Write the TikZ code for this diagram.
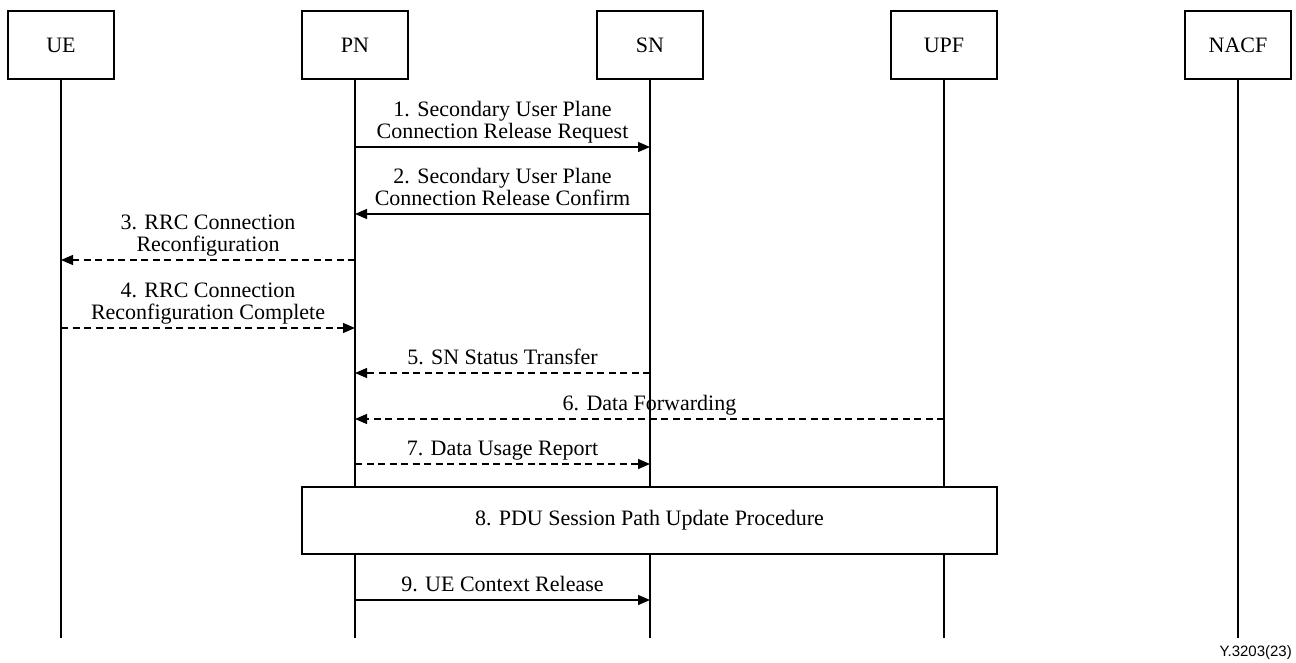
\documentclass[tikz,border=0pt]{standalone}
\usepackage{fontspec}
\setmainfont{Liberation Serif}
\newfontfamily\tagfont{Liberation Sans}
\usetikzlibrary{arrows.meta}

\begin{document}
\begin{tikzpicture}[x=1pt,y=-1pt,
  every node/.style={font=\fontsize{22}{22.5}\selectfont},
  entity/.style={draw, line width=1.3pt, minimum width=106pt, minimum height=68pt, inner sep=0pt},
  life/.style={line width=1.3pt},
  msg/.style={line width=1.3pt, -{Triangle[length=12pt,width=10pt]}},
  dmsg/.style={msg, dash pattern=on 7pt off 4.5pt},
  lbl/.style={align=center, anchor=south, inner sep=0pt, text depth=0pt},
  proc/.style={draw, fill=white, line width=1.3pt, minimum width=695pt, minimum height=67pt, inner sep=0pt}]

\useasboundingbox (0,0) rectangle (1296,663);

% entities
\node[entity] (UE)   at (61,45)   {UE};
\node[entity] (PN)   at (355,45)  {PN};
\node[entity] (SN)   at (650,45)  {SN};
\node[entity] (UPF)  at (944,45)  {UPF};
\node[entity] (NACF) at (1238,45) {NACF};

% lifelines
\foreach \n in {UE,PN,SN,UPF,NACF}{
  \coordinate (\n-end) at (\n |- 0,638);
  \draw[life] (\n.south) -- (\n-end);
}

% messages
\draw[msg] (PN |- 0,147) -- (SN |- 0,147);
\node[lbl] at (502.5,139) {1. Secondary User Plane\\Connection Release Request};

\draw[msg] (SN |- 0,214) -- (PN |- 0,214);
\node[lbl] at (502.5,206) {2. Secondary User Plane\\Connection Release Confirm};

\draw[dmsg] (PN |- 0,260) -- (UE |- 0,260);
\node[lbl] at (208,252) {3. RRC Connection\\Reconfiguration};

\draw[dmsg] (UE |- 0,328) -- (PN |- 0,328);
\node[lbl] at (208,320) {4. RRC Connection\\Reconfiguration Complete};

\draw[dmsg] (SN |- 0,373) -- (PN |- 0,373);
\node[lbl] at (502.5,365) {5. SN Status Transfer};

\draw[dmsg] (UPF |- 0,419) -- (PN |- 0,419);
\node[lbl] at (649.5,411) {6. Data Forwarding};

\draw[dmsg] (PN |- 0,464) -- (SN |- 0,464);
\node[lbl] at (502.5,456) {7. Data Usage Report};

% procedure box across PN, SN and UPF
\node[proc] (P8) at (649.5,520.5) {8. PDU Session Path Update Procedure};

\draw[msg] (PN |- 0,600) -- (SN |- 0,600);
\node[lbl] at (502.5,592) {9. UE Context Release};

% figure tag
\node[font=\tagfont\fontsize{15}{18}\selectfont, anchor=east, inner sep=0pt] (tag) at (1292,653) {Y.3203(23)};

\end{tikzpicture}
\end{document}
